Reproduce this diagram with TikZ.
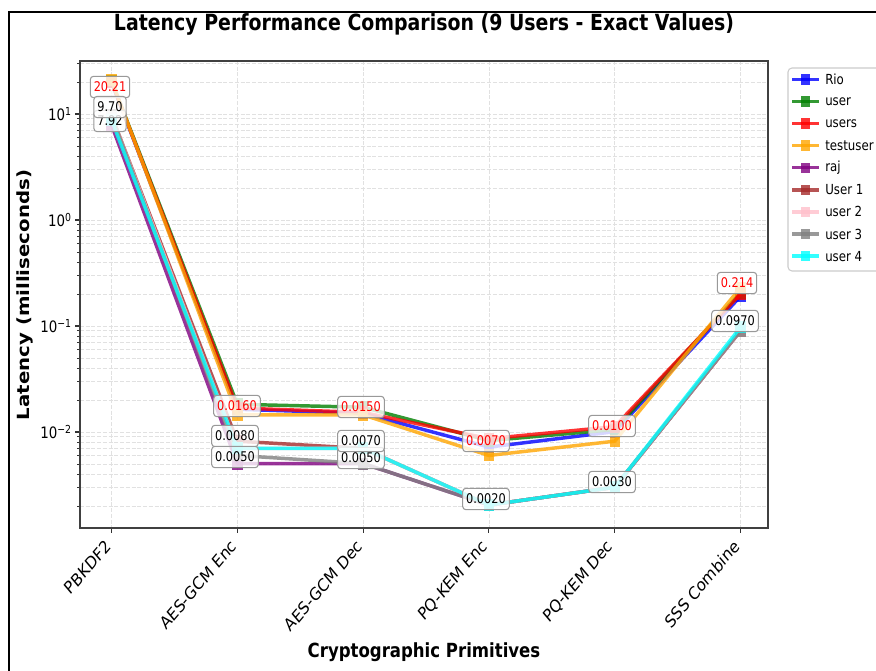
\documentclass[tikz,border=0pt]{standalone}
\usepackage{fontspec}
\setmainfont{DejaVu Sans}
\usepackage{graphicx}

% series colours
\definecolor{cRio}{HTML}{0000FF}
\definecolor{cUser}{HTML}{008000}
\definecolor{cUsers}{HTML}{FF0000}
\definecolor{cTest}{HTML}{FFA500}
\definecolor{cRaj}{HTML}{800080}
\definecolor{cUone}{HTML}{A52A2A}
\definecolor{cUtwo}{HTML}{FFC0CB}
\definecolor{cUthree}{HTML}{808080}
\definecolor{cUfour}{HTML}{00FFFF}
\definecolor{gridgray}{HTML}{E1E1E1}
\definecolor{boxedge}{HTML}{999999}

\newcommand\fsz[1]{\fontsize{#1}{#1}\selectfont}
\newcommand\sqz[1]{\scalebox{0.85}[1]{#1}}

% one data series: colour, first value, remaining five values
\newcommand\drawseries[3]{%
  \draw[serline,draw=#1] ({111.5},{220-106*log10(#2)})
    \foreach \v [count=\i] in {#3} { -- ({111.5+125.8*\i},{220-106*log10(\v)}) };
  \foreach \v [count=\i from 0] in {#2,#3}
    \fill[serdot,fill=#1] ({111.5+125.8*\i-5.2},{220-106*log10(\v)-6}) rectangle ++(10.4,12);
}

% value label: name, x, y, text, colour
\newcommand\vallabel[5]{\node[labbox,text=#5] (#1) at (#2,#3) {\sqz{\fsz{10}#4}};}

% legend entry: name, row, colour, text
\newcommand\legentry[4]{%
  \draw[serline,draw=#3] (792,{79.3+22.1*#2}) -- (819,{79.3+22.1*#2});
  \fill[serdot,fill=#3] (800.5,{79.3+22.1*#2-5.2}) rectangle ++(9.6,10.4);
  \node[anchor=west] (#1) at (825,{79.3+22.1*#2}) {\sqz{\fsz{10.4}#4}};
}

\begin{document}
\begin{tikzpicture}[x=0.75pt,y=-0.75pt,
  every node/.style={inner sep=0pt},
  gridline/.style={draw=gridgray,line width=0.6pt,dash pattern=on 3pt off 1.3pt},
  serline/.style={line width=2.6pt,draw opacity=0.8,line join=round},
  serdot/.style={fill opacity=0.8},
  labbox/.style={draw=boxedge,line width=0.8pt,fill=white,fill opacity=0.8,
    text opacity=1,rounded corners=2.4pt,inner xsep=2.6pt,inner ysep=4pt,
    text height=7.6pt,text depth=0.4pt},
  tickmark/.style={line width=0.8pt,draw=black!80},
  spine/.style={line width=0.8pt,draw=black!75}]

\useasboundingbox (0,0) rectangle (876,671);
\clip (0,0) rectangle (876,671);
\fill[white] (0,0) rectangle (876,671);

% figure frame
\draw[line width=1.5pt] (9,672) -- (9,12) -- (877,12);

% grid (major and minor decades)
\begin{scope}
  \clip (80,61) rectangle (768,528);
  \foreach \d in {-3,...,1}
    \foreach \m in {1,...,9}
      \draw[gridline] (80,{220-106*(\d+log10(\m))}) -- (768,{220-106*(\d+log10(\m))});
  \foreach \i in {0,...,5}
    \draw[gridline] ({111.5+125.8*\i},61) -- ({111.5+125.8*\i},528);
\end{scope}

% y ticks
\begin{scope}
  \clip (60,60) rectangle (80,529);
  \foreach \d in {-3,...,1} {
    \draw[tickmark] (75,{220-106*\d}) -- (80,{220-106*\d});
    \foreach \m in {2,...,9}
      \draw[tickmark,line width=0.6pt] (77.2,{220-106*(\d+log10(\m))}) -- (80,{220-106*(\d+log10(\m))});
  }
\end{scope}
% x ticks
\foreach \i in {0,...,5}
  \draw[tickmark] ({111.5+125.8*\i},528) -- ({111.5+125.8*\i},533);

% data series
\drawseries{cRio}{20.0}{0.0160,0.0150,0.0072,0.0100,0.190}
\drawseries{cUser}{20.5}{0.0180,0.0168,0.0081,0.0105,0.205}
\drawseries{cUsers}{20.21}{0.0165,0.0153,0.0085,0.0112,0.200}
\drawseries{cTest}{20.8}{0.0145,0.0145,0.0060,0.0080,0.230}
\drawseries{cRaj}{7.92}{0.0050,0.0050,0.0020,0.0030,0.090}
\drawseries{cUone}{9.70}{0.0080,0.0070,0.0020,0.0030,0.090}
\drawseries{cUtwo}{9.70}{0.0070,0.0070,0.0020,0.0030,0.090}
\drawseries{cUthree}{9.70}{0.0060,0.0050,0.0020,0.0030,0.090}
\drawseries{cUfour}{8.80}{0.0070,0.0070,0.0020,0.0030,0.097}

% value labels
\vallabel{lA}{110}{87}{20.21}{red}
\vallabel{lB}{110}{121}{7.92}{black}
\vallabel{lC}{110}{107}{9.70}{black}
\vallabel{lD}{237}{406}{0.0160}{red}
\vallabel{lE}{235}{436}{0.0080}{black}
\vallabel{lF}{235}{457}{0.0050}{black}
\vallabel{lG}{361}{407}{0.0150}{red}
\vallabel{lH}{361}{458}{0.0050}{black}
\vallabel{lI}{361}{441}{0.0070}{black}
\vallabel{lJ}{486}{441}{0.0070}{red}
\vallabel{lK}{486}{499}{0.0020}{black}
\vallabel{lL}{612}{426}{0.0100}{red}
\vallabel{lM}{612}{482}{0.0030}{black}
\vallabel{lN}{737}{283}{0.214}{red}
\vallabel{lO}{735}{321}{0.0970}{black}

% axes frame
\draw[spine] (80,61) rectangle (768,528);

% y tick labels
\node[anchor=east] (y1) at (72,114) {\sqz{\fsz{11.8}10\textsuperscript{1}}};
\node[anchor=east] (y0) at (72,220) {\sqz{\fsz{11.8}10\textsuperscript{0}}};
\node[anchor=east] (ym1) at (72,326) {\sqz{\fsz{11.8}10\textsuperscript{−1}}};
\node[anchor=east] (ym2) at (72,432) {\sqz{\fsz{11.8}10\textsuperscript{−2}}};

% x tick labels
\node[anchor=north east] (x0) at (112,538) {\sqz{\rotatebox{45}{\fsz{13}PBKDF2}}};
\node[anchor=north east] (x1) at (237.8,538) {\sqz{\rotatebox{45}{\fsz{13}AES-GCM Enc}}};
\node[anchor=north east] (x2) at (363.6,538) {\sqz{\rotatebox{45}{\fsz{13}AES-GCM Dec}}};
\node[anchor=north east] (x3) at (489.4,538) {\sqz{\rotatebox{45}{\fsz{13}PQ-KEM Enc}}};
\node[anchor=north east] (x4) at (615.2,538) {\sqz{\rotatebox{45}{\fsz{13}PQ-KEM Dec}}};
\node[anchor=north east] (x5) at (741,538) {\sqz{\rotatebox{45}{\fsz{13}SSS Combine}}};

% titles
\node (title) at (424,24) {\sqz{\fsz{16.7}\bfseries Latency Performance Comparison (9 Users - Exact Values)}};
\node (xlab) at (424,652) {\sqz{\fsz{14.6}\bfseries Cryptographic Primitives}};
\node (ylab) at (25,295) {\sqz{\rotatebox{90}{\fsz{14.8}\bfseries Latency (milliseconds)}}};

% legend
\draw[draw=black!20,line width=0.8pt,fill=white,fill opacity=0.8,rounded corners=3pt] (788,68) rectangle (900,271);
\legentry{gRio}{0}{cRio}{Rio}
\legentry{gUser}{1}{cUser}{user}
\legentry{gUsers}{2}{cUsers}{users}
\legentry{gTest}{3}{cTest}{testuser}
\legentry{gRaj}{4}{cRaj}{raj}
\legentry{gUone}{5}{cUone}{User 1}
\legentry{gUtwo}{6}{cUtwo}{user 2}
\legentry{gUthree}{7}{cUthree}{user 3}
\legentry{gUfour}{8}{cUfour}{user 4}
\end{tikzpicture}
\end{document}
